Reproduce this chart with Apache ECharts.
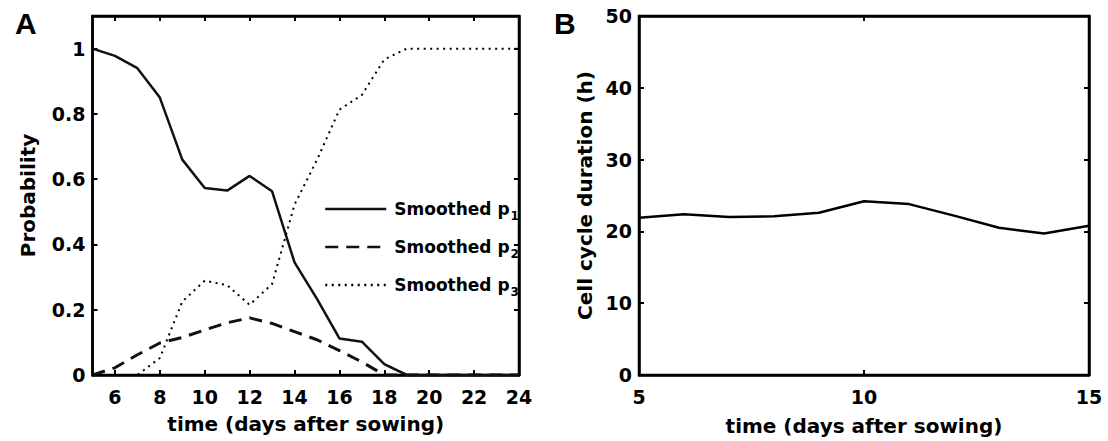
<!DOCTYPE html>
<html><head><meta charset="utf-8">
<script src="https://cdn.jsdelivr.net/npm/echarts@6/dist/echarts.min.js"></script>
<style>html,body{margin:0;padding:0;background:#fff}#c{width:1108px;height:441px}</style>
</head><body><div id="c"></div>
<script>
// ---- data ----
const daysA = [5,6,7,8,9,10,11,12,13,14,15,16,17,18,19,20,21,22,23,24];
const p1 = [1.0,0.978,0.94,0.85,0.66,0.573,0.565,0.61,0.563,0.345,0.233,0.112,0.102,0.033,0,0,0,0,0,0];
const p2 = [0,0.022,0.062,0.098,0.115,0.138,0.16,0.175,0.158,0.133,0.108,0.075,0.04,0,0,0,0,0,0,0];
const p3 = [0,0,0,0.052,0.225,0.289,0.275,0.215,0.279,0.522,0.659,0.813,0.858,0.967,1,1,1,1,1,1];
const ticksAx = [6,8,10,12,14,16,18,20,22,24];
const ticksAy = [0,0.2,0.4,0.6,0.8,1];
const daysB = [5,6,7,8,9,10,11,12,13,14,15];
const cycleB = [21.9,22.4,22.0,22.1,22.6,24.2,23.8,22.2,20.5,19.7,20.8];
const ticksBx = [5,10,15];
const ticksBy = [0,10,20,30,40,50];
const seriesNames = ['Smoothed p1','Smoothed p2','Smoothed p3'];

const F = 'DejaVu Sans';
const axisLine = {show:true, onZero:false, lineStyle:{color:'#000', width:2.5}};
const tickIn = {show:true, inside:true, length:5, lineStyle:{color:'#000', width:2}};
const lblStyle = {color:'#000', fontFamily:F, fontWeight:'bold', fontSize:19};
const nameStyle = {color:'#000', fontFamily:F, fontWeight:'bold', fontSize:20};

function xAx(grid, min, max, ticks, pos, name, labels, gap){
  return {type:'value', gridIndex:grid, min:min, max:max, position:pos, show:true,
    name: labels ? name : '', nameLocation:'middle', nameGap:gap||0, nameTextStyle:nameStyle,
    axisLine:axisLine, splitLine:{show:false},
    axisTick:Object.assign({customValues:ticks}, tickIn),
    axisLabel:Object.assign({show:labels, customValues:ticks, margin:12}, lblStyle)};
}
function yAx(grid, min, max, ticks, pos, name, labels, gap, fmt){
  return {type:'value', gridIndex:grid, min:min, max:max, position:pos, show:true,
    name: labels ? name : '', nameLocation:'middle', nameGap:gap, nameTextStyle:nameStyle,
    axisLine:axisLine, splitLine:{show:false},
    axisTick:Object.assign({customValues:ticks}, tickIn),
    axisLabel:Object.assign({show:labels, customValues:ticks, margin:7, formatter:fmt}, lblStyle)};
}
const fmtA = v => (Math.abs(v) < 1e-9 ? '0' : (Math.abs(v-1) < 1e-9 ? '1' : String(+v.toFixed(1))));

const chart = echarts.init(document.getElementById('c'), null, {renderer:'svg'});
chart.setOption({
  animation:false,
  backgroundColor:'#fff',
  title:[
    {text:'A', left:10, top:3, textStyle:{fontFamily:'Liberation Sans', fontWeight:'bold', fontSize:30, color:'#000'}},
    {text:'B', left:549, top:3, textStyle:{fontFamily:'Liberation Sans', fontWeight:'bold', fontSize:30, color:'#000'}}
  ],
  grid:[
    {left:92.5, top:16, width:426.5, height:359, show:true, borderColor:'#000', borderWidth:2.5, backgroundColor:'transparent'},
    {left:639, top:16, width:450, height:362, show:true, borderColor:'#000', borderWidth:2.5, backgroundColor:'transparent'}
  ],
  xAxis:[
    xAx(0, 5, 24, ticksAx, 'bottom', 'time (days after sowing)', true, 39),
    xAx(0, 5, 24, ticksAx, 'top', '', false),
    xAx(1, 5, 15, ticksBx, 'bottom', 'time (days after sowing)', true, 41),
    xAx(1, 5, 15, ticksBx, 'top', '', false)
  ],
  yAxis:[
    yAx(0, 0, 1.1, ticksAy, 'left', 'Probability', true, 55, fmtA),
    yAx(0, 0, 1.1, ticksAy, 'right', '', false, 0, fmtA),
    yAx(1, 0, 50, ticksBy, 'left', 'Cell cycle duration (h)', true, 44, v => String(v)),
    yAx(1, 0, 50, ticksBy, 'right', '', false, 0, v => String(v))
  ],
  legend:{
    orient:'vertical', left:324, top:196, padding:0, itemWidth:61, itemHeight:14, itemGap:12,
    itemStyle:{opacity:0},
    lineStyle:{width:2.5},
    data:seriesNames,
    formatter: n => '{a|' + n.slice(0, -1) + '}{s|' + n.slice(-1) + '}',
    textStyle:{color:'#000', fontFamily:F, fontWeight:'bold', fontSize:17,
      rich:{a:{fontFamily:F, fontWeight:'bold', fontSize:17, lineHeight:23, padding:[0,0,0,3]},
            s:{fontFamily:F, fontWeight:'bold', fontSize:12, lineHeight:12, padding:[14,0,0,1]}}}
  },
  series:[
    {name:seriesNames[0], type:'line', xAxisIndex:0, yAxisIndex:0, showSymbol:false, symbol:'none',
     data:daysA.map((d,i)=>[d,p1[i]]), lineStyle:{color:'#111', width:2.5, type:'solid'}, itemStyle:{color:'#111'}},
    {name:seriesNames[1], type:'line', xAxisIndex:0, yAxisIndex:0, showSymbol:false, symbol:'none',
     data:daysA.map((d,i)=>[d,p2[i]]), lineStyle:{color:'#111', width:3, type:[13,8]}, itemStyle:{color:'#111'}},
    {name:seriesNames[2], type:'line', xAxisIndex:0, yAxisIndex:0, showSymbol:false, symbol:'none',
     data:daysA.map((d,i)=>[d,p3[i]]), lineStyle:{color:'#000', width:2, type:[2,4.5]}, itemStyle:{color:'#000'}},
    {name:'cycle', type:'line', xAxisIndex:2, yAxisIndex:2, showSymbol:false, symbol:'none',
     data:daysB.map((d,i)=>[d,cycleB[i]]), lineStyle:{color:'#000', width:2.5}},
    {name:'frameA', type:'line', xAxisIndex:1, yAxisIndex:1, data:[], silent:true},
    {name:'frameB', type:'line', xAxisIndex:3, yAxisIndex:3, data:[], silent:true}
  ]
});
</script></body></html>
